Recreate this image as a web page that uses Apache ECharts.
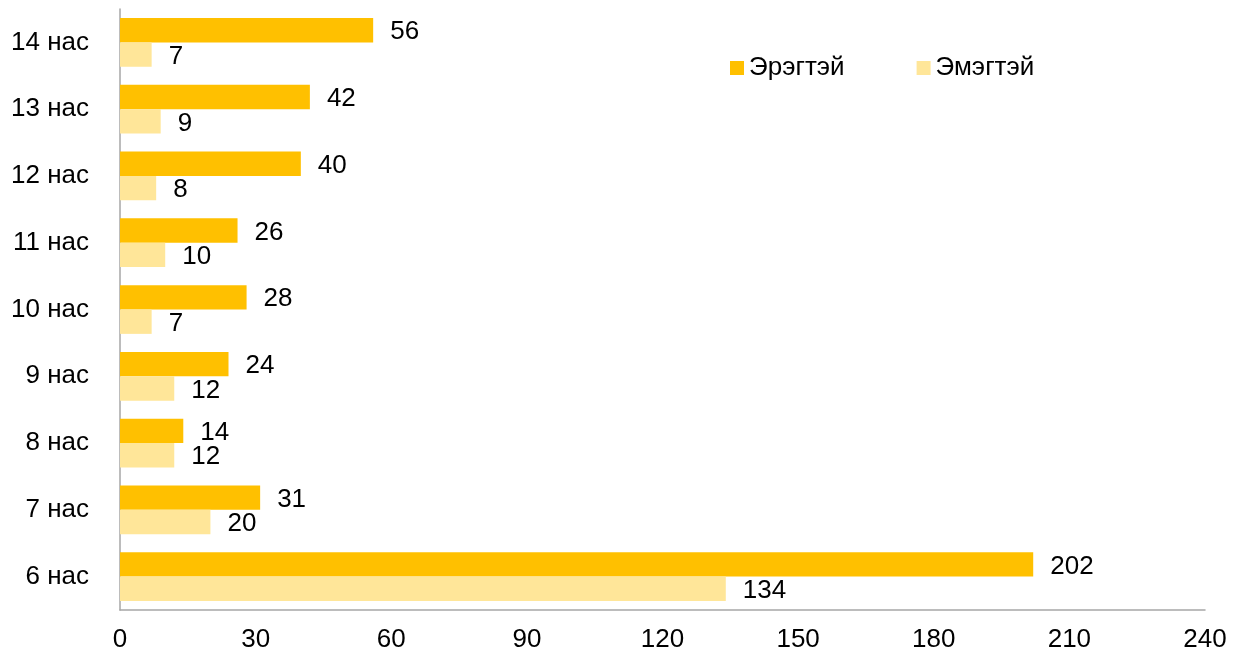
<!DOCTYPE html>
<html>
<head>
<meta charset="utf-8">
<script src="https://cdn.jsdelivr.net/npm/echarts@6/dist/echarts.min.js"></script>
<style>
  html, body { margin: 0; padding: 0; background: #fff; }
  #main { width: 1236px; height: 654px; }
</style>
</head>
<body>
<div id="main"></div>
<script>
// насны ангилал, дээрээс доош
var categories = ['14 нас', '13 нас', '12 нас', '11 нас', '10 нас', '9 нас', '8 нас', '7 нас', '6 нас'];
var male = [56, 42, 40, 26, 28, 24, 14, 31, 202];   // Эрэгтэй
var female = [7, 9, 8, 10, 7, 12, 12, 20, 134];     // Эмэгтэй
var xTicks = [0, 30, 60, 90, 120, 150, 180, 210, 240];

var font = 'Liberation Sans, Arial, sans-serif';
var chart = echarts.init(document.getElementById('main'));

var labelStyle = {
  show: true,
  position: 'right',
  distance: 17,
  offset: [0, 2],
  color: '#000',
  fontSize: 26,
  fontFamily: font
};

chart.setOption({
  animation: false,
  grid: { left: 120, right: 31, top: 9, bottom: 44 },
  legend: {
    data: ['Эрэгтэй', 'Эмэгтэй'],
    left: 725,
    top: 50,
    itemWidth: 14,
    itemHeight: 14,
    itemGap: 72,
    icon: 'rect',
    textStyle: { fontSize: 26, fontFamily: font, color: '#000', padding: [0, 0, 0, 0] }
  },
  xAxis: {
    type: 'value',
    min: xTicks[0],
    max: xTicks[xTicks.length - 1],
    interval: 30,
    splitLine: { show: false },
    axisLine: { show: true, lineStyle: { color: '#A6A6A6', width: 1.5 } },
    axisTick: { show: false },
    axisLabel: { fontSize: 26, fontFamily: font, color: '#000', margin: 17 }
  },
  yAxis: {
    type: 'category',
    inverse: true,
    data: categories,
    axisLine: { show: true, lineStyle: { color: '#A6A6A6', width: 1.5 } },
    axisTick: { show: false },
    axisLabel: { fontSize: 26, fontFamily: font, color: '#000', margin: 31 }
  },
  series: [
    {
      name: 'Эрэгтэй',
      type: 'bar',
      data: male,
      barGap: '0%',
      barCategoryGap: '27%',
      itemStyle: { color: '#FFC000' },
      label: labelStyle
    },
    {
      name: 'Эмэгтэй',
      type: 'bar',
      data: female,
      barGap: '0%',
      barCategoryGap: '27%',
      itemStyle: { color: '#FFE699' },
      label: labelStyle
    }
  ]
});
</script>
</body>
</html>
